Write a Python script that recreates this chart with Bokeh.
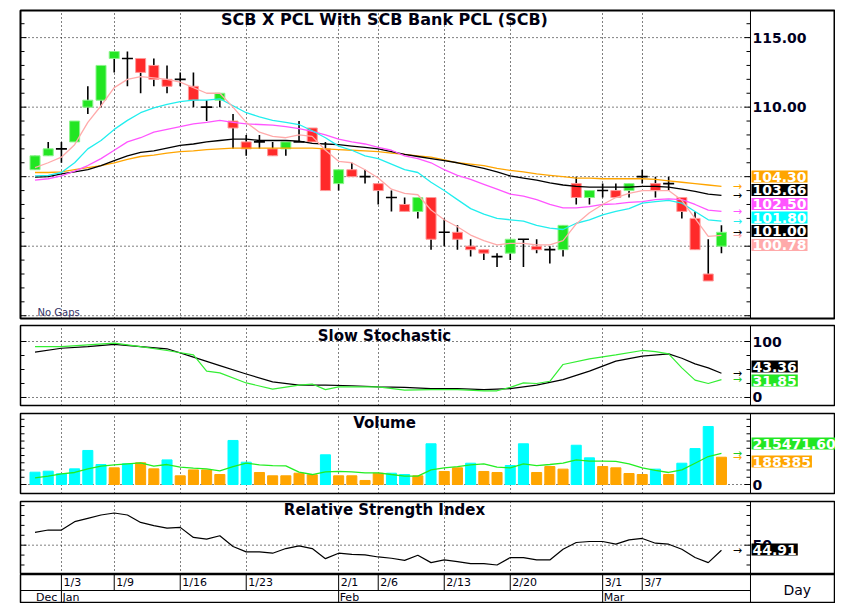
from math import pi
from bokeh.plotting import figure
from bokeh.layouts import column
from bokeh.models import Range1d, FixedTicker, Label, Grid, Span, ColumnDataSource
from bokeh.embed import file_html
from bokeh.resources import INLINE
from bokeh.core.properties import value

# ---------------- data ----------------
opens = [105.5, 106.5, 107.0, 107.5, 110.0, 110.5, 113.5, 113.5, 113.5, 113.0,
         112.0, 112.0, 111.5, 110.0, 110.5, 109.0, 107.5, 107.5, 107.0, 107.0,
         107.5, 108.5, 107.0, 104.5, 105.5, 105.0, 104.5, 103.5, 103.0, 102.5,
         103.5, 101.0, 101.0, 100.0, 99.75, 99.25, 99.5, 100.5, 100.0, 99.75,
         99.75, 104.5, 103.5, 104.0, 104.0, 104.0, 105.0, 104.5, 104.5, 103.5,
         102.0, 98.0, 100.0]
highs = [106.5, 107.5, 107.5, 109.0, 111.5, 113.0, 114.0, 114.0, 113.5, 113.5,
         113.0, 112.5, 112.5, 110.5, 111.0, 109.5, 108.0, 108.0, 107.5, 107.5,
         109.0, 108.5, 107.5, 105.5, 106.0, 105.5, 104.5, 104.0, 103.5, 103.5,
         103.5, 102.0, 101.5, 100.5, 99.75, 99.5, 100.5, 100.5, 100.5, 100.0,
         101.5, 105.0, 104.0, 104.5, 104.5, 104.5, 105.5, 105.0, 105.0, 103.5,
         102.5, 100.5, 101.5]
lows = [105.5, 106.5, 106.0, 107.5, 109.5, 110.0, 112.5, 111.5, 111.0, 111.5,
        111.0, 111.5, 110.0, 109.0, 110.0, 107.0, 106.5, 107.0, 106.5, 106.5,
        107.5, 107.5, 104.0, 104.0, 105.0, 104.5, 103.0, 102.5, 102.5, 102.0,
        99.75, 100.0, 99.75, 99.25, 99.0, 98.5, 99.0, 98.5, 99.5, 98.75,
        99.25, 103.0, 103.0, 103.5, 103.5, 103.5, 104.5, 103.5, 104.0, 102.0,
        99.75, 97.5, 99.5]
closes = [106.5, 107.0, 107.0, 109.0, 110.5, 113.0, 114.0, 113.5, 112.5, 112.0,
          111.5, 112.0, 110.5, 110.0, 111.0, 108.5, 107.0, 107.5, 106.5, 107.5,
          107.5, 107.5, 104.0, 105.5, 105.0, 105.0, 104.0, 103.5, 102.5, 103.5,
          100.5, 101.0, 100.5, 99.75, 99.5, 99.25, 100.5, 100.5, 99.75, 99.75,
          101.5, 103.5, 104.0, 104.0, 103.5, 104.5, 105.0, 104.0, 104.5, 102.5,
          99.75, 97.5, 101.0]

ma_pink = [105.65, 106.0, 106.4, 107.3, 108.9, 110.1, 111.4, 112.0, 112.2, 112.1,
           112.0, 111.8, 111.4, 111.0, 111.0, 110.0, 108.9, 108.2, 107.9, 107.8,
           108.0, 107.9, 106.9, 106.1, 106.0, 105.5, 104.9, 104.1, 103.8, 103.7,
           102.6, 101.9, 101.4, 100.8, 100.4, 100.1, 100.2, 100.2, 100.1, 100.1,
           100.4, 101.6, 102.4, 103.0, 103.5, 103.8, 104.0, 104.0, 104.0, 103.3,
           102.0, 100.7, 100.78]
ma_cyan = [105.05, 105.1, 105.3, 106.0, 107.0, 107.6, 108.4, 109.05, 109.6, 109.95,
           110.2, 110.4, 110.5, 110.5, 110.6, 110.1, 109.6, 109.3, 109.05, 108.9,
           108.75, 108.3, 107.8, 107.2, 106.9, 106.5, 106.3, 105.9, 105.5, 105.3,
           104.6, 104.0, 103.35, 102.7, 102.3, 102.0, 101.9, 101.8, 101.5, 101.3,
           101.2, 101.65, 101.9, 102.25, 102.5, 102.7, 103.1, 103.2, 103.3, 103.1,
           102.5, 101.9, 101.8]
ma_magenta = [104.75, 104.85, 105.05, 105.4, 105.8, 106.3, 106.9, 107.5, 107.8, 108.2,
              108.4, 108.6, 108.8, 108.9, 109.05, 108.9, 108.8, 108.75, 108.7, 108.6,
              108.45, 108.25, 108.0, 107.7, 107.5, 107.35, 107.1, 106.9, 106.5, 106.3,
              106.0, 105.5, 105.1, 104.8, 104.45, 104.1, 103.75, 103.6, 103.35, 103.0,
              102.75, 102.75, 102.85, 103.0, 103.05, 103.15, 103.2, 103.35, 103.4, 103.35,
              103.0, 102.6, 102.5]
ma_black = [104.97, 105.0, 105.2, 105.35, 105.5, 105.8, 106.15, 106.5, 106.75, 106.85,
            107.05, 107.25, 107.35, 107.5, 107.6, 107.7, 107.7, 107.6, 107.6, 107.6,
            107.55, 107.4, 107.35, 107.3, 107.2, 107.1, 107.0, 106.8, 106.6, 106.45,
            106.3, 106.15, 106.0, 105.8, 105.6, 105.35, 105.05, 104.9, 104.75, 104.55,
            104.4, 104.3, 104.25, 104.25, 104.25, 104.25, 104.3, 104.3, 104.25, 104.1,
            103.95, 103.75, 103.66]
ma_orange = [105.3, 105.3, 105.35, 105.5, 105.65, 105.8, 106.0, 106.25, 106.45, 106.55,
             106.7, 106.8, 106.85, 106.95, 107.0, 107.05, 107.05, 107.05, 107.05, 107.05,
             107.05, 107.05, 107.0, 106.95, 106.9, 106.85, 106.8, 106.7, 106.6, 106.5,
             106.4, 106.2, 106.0, 105.9, 105.8, 105.6, 105.45, 105.35, 105.2, 105.1,
             105.0, 104.9, 104.9, 104.85, 104.85, 104.85, 104.85, 104.8, 104.7, 104.6,
             104.5, 104.4, 104.3]

volume = [85000, 92000, 74000, 108000, 235000, 138000, 115000, 143000, 150000, 108000,
          170000, 60000, 101000, 101000, 69000, 304000, 154000, 83000, 60000, 60000,
          78000, 67000, 205000, 60000, 60000, 28000, 78000, 78000, 69000, 60000,
          281000, 90000, 115000, 147000, 90000, 83000, 131000, 281000, 83000, 124000,
          106000, 271000, 184000, 124000, 115000, 76000, 69000, 106000, 69000, 147000,
          248000, 400000, 188385]
volume_dir = ["up", "up", "up", "up", "up", "up", "down", "up", "down", "down",
              "up", "down", "down", "down", "down", "up", "up", "down", "down", "down",
              "down", "down", "up", "down", "down", "down", "down", "up", "up", "down",
              "up", "down", "down", "up", "down", "down", "up", "up", "down", "down",
              "down", "up", "up", "down", "down", "down", "down", "up", "down", "up",
              "up", "up", "down"]
volume_ma = [46000, 58000, 74000, 83000, 108000, 127000, 136000, 143000, 150000, 127000,
             138000, 120000, 113000, 108000, 94000, 124000, 147000, 136000, 131000, 129000,
             85000, 69000, 87000, 90000, 87000, 81000, 81000, 69000, 58000, 58000,
             101000, 115000, 124000, 136000, 143000, 120000, 115000, 143000, 131000, 138000,
             147000, 170000, 161000, 161000, 159000, 143000, 115000, 97000, 83000, 101000,
             147000, 193000, 215471.60]

stoch_d_idx = [0, 2, 4, 6, 8, 10, 12, 14, 16, 18, 20, 22, 24, 26, 28, 30, 32, 34, 36,
               38, 40, 42, 44, 46, 48, 49, 50, 51, 52]
stoch_d = [81, 88, 91, 95, 91, 87, 72, 57, 42, 28, 22, 22, 21, 19, 18, 16, 16, 14, 16,
           22, 32, 47, 65, 74, 78, 70, 60, 53, 43.36]
stoch_k_idx = [0, 2, 4, 6, 8, 10, 12, 13, 14, 16, 18, 20, 21, 22, 23, 24, 26, 28, 30,
               32, 34, 35, 36, 37, 38, 39, 40, 42, 44, 46, 47, 48, 49, 50, 51, 52]
stoch_k = [91, 91, 94, 97, 91, 84, 76, 47, 44, 26, 15, 22, 24, 14, 19, 19, 19, 13, 14,
           14, 12, 12, 18, 26, 25, 29, 59, 69, 76, 84, 82, 78, 53, 31, 25, 31.85]

rsi = [62.9, 65.3, 65.3, 73.7, 77.1, 80.5, 82.5, 80.5, 73.0, 69.7,
       67.3, 68.0, 57.8, 56.1, 59.5, 48.6, 43.2, 43.2, 41.9, 46.6,
       49.3, 46.6, 36.4, 41.9, 40.8, 40.2, 38.1, 36.8, 34.7, 39.8,
       32.4, 35.1, 33.4, 31.4, 31.4, 30.0, 37.5, 37.5, 35.1, 35.1,
       45.9, 52.7, 53.7, 53.7, 51.0, 55.4, 56.8, 52.0, 51.0, 45.9,
       37.5, 32.4, 44.91]

tick_idx = [2, 6, 11, 16, 23, 26, 31, 36, 43, 46]
tick_labels = ["1/3", "1/9", "1/16", "1/23", "2/1", "2/6", "2/13", "2/20", "3/1", "3/7"]
month_idx = [0, 2, 23, 43]
month_labels = ["Dec", "Jan", "Feb", "Mar"]

price_ticks = [95, 100, 105, 110, 115]
price_labelled = [100, 105, 110, 115]

# ---------------- styling ----------------
FONT = "DejaVu Sans"
GREEN = "#22e622"
RED = "#ff2a2a"
C_PINK = "#ffaaaa"
C_CYAN = "#22eeee"
C_MAG = "#ff55ff"
C_ORANGE = "#ffa500"
VOL_UP = "#00ffff"
VOL_DN = "#ffa500"
W = 835
LB = 20
X0, X1 = -1.1, 60.64      # visible index range of every panel (frame 20..835 px)
AX = 54.2                 # index position of the value-axis line (750 px)
idx = list(range(len(closes)))
XR = Range1d(X0, X1)


def make_fig(h, yr, top, bottom, ow=1.5):
    p = figure(width=W, height=h, x_range=XR, y_range=Range1d(*yr),
               x_axis_location=None, y_axis_location=None,
               toolbar_location=None, output_backend="svg",
               min_border_left=LB, min_border_right=0,
               min_border_top=top, min_border_bottom=bottom,
               background_fill_color="white", border_fill_color="white")
    p.grid.visible = False
    p.outline_line_color = "black"
    p.outline_line_width = ow
    return p


def value_axis(p, ticks, minor, labelled, fmt):
    p.add_layout(Span(location=AX, dimension="height", line_color="black", line_width=1))
    # dotted horizontal grid lines, only over the chart area
    p.segment(x0=[X0] * len(ticks), y0=ticks, x1=[AX] * len(ticks), y1=ticks,
              line_color="black", line_dash="1 3", line_width=1)
    for xpos, ang in ((AX, pi), (X0, 0)):
        p.ray(x=[xpos] * len(ticks), y=ticks, length=6, angle=ang,
              length_units="screen", line_color="black", line_width=1)
        p.ray(x=[xpos] * len(minor), y=minor, length=4, angle=ang,
              length_units="screen", line_color="black", line_width=1)
    p.text(x=[AX] * len(labelled), y=labelled, text=[fmt(t) for t in labelled],
           x_offset=2, text_align="left", text_baseline="middle",
           text_font=value(FONT), text_font_style="bold", text_font_size="14px",
           text_color="#000022")


def vgrid(p):
    p.add_layout(Grid(dimension=0, ticker=FixedTicker(ticks=tick_idx),
                      grid_line_color="black", grid_line_dash="1 3", grid_line_width=1))


def title(p, text, y, size="15px"):
    p.add_layout(Label(x=364, y=y, x_units="screen", y_units="screen", text=text,
                       text_align="center", text_baseline="middle", text_font=FONT,
                       text_font_style="bold", text_font_size=size, text_color="#000011"))


def tag(p, text, bg, y, fg="white"):
    p.add_layout(Label(x=AX, y=y, x_units="data", y_units="screen", x_offset=1,
                       text=text, text_align="left", text_baseline="middle",
                       text_font=FONT, text_font_style="bold", text_font_size="14px",
                       text_color=fg, background_fill_color=bg, padding=1))


def arrows(p, ys, colors):
    p.text(x=[53.2] * len(ys), y=ys, text=["\u2192"] * len(ys), text_color=colors,
           text_align="center", text_baseline="middle", text_font=value(FONT),
           text_font_size="11px")


# ---------------- main price panel ----------------
p = make_fig(321, (94.8, 116.95), 10, 3, ow=2)
vgrid(p)
value_axis(p, price_ticks, [v for v in range(95, 117) if v % 5], price_labelled,
           lambda t: f"{t:.2f}")

p.segment(x0=idx, y0=lows, x1=idx, y1=highs, line_color="black", line_width=1.6)
up = [i for i in idx if closes[i] > opens[i]]
dn = [i for i in idx if closes[i] < opens[i]]
dj = [i for i in idx if closes[i] == opens[i]]
p.vbar(x=up, top=[closes[i] for i in up], bottom=[opens[i] for i in up], width=0.76,
       fill_color=GREEN, line_color="#8cf58c", line_width=1)
p.vbar(x=dn, top=[opens[i] for i in dn], bottom=[closes[i] for i in dn], width=0.76,
       fill_color=RED, line_color="#ff9a9a", line_width=1)
p.scatter(x=dj, y=[closes[i] for i in dj], marker="dash", size=11,
          line_color="black", line_width=1.6)

for ma, col in ((ma_orange, C_ORANGE), (ma_black, "black"), (ma_magenta, C_MAG),
                (ma_cyan, C_CYAN), (ma_pink, C_PINK)):
    p.line(idx, ma, line_color=col, line_width=1.3)

arrows(p, [ma_orange[-1], ma_black[-1], ma_magenta[-1], ma_cyan[-1], closes[-1], ma_pink[-1]],
       [C_ORANGE, "black", C_MAG, C_CYAN, "black", C_PINK])

title(p, "SCB X PCL With SCB Bank PCL (SCB)", 299, "16px")
p.add_layout(Label(x=17, y=6, x_units="screen", y_units="screen", text="No Gaps",
                   text_baseline="middle", text_font=FONT, text_font_size="10px",
                   text_color="#333366"))
tag(p, f"{ma_orange[-1]:.2f}", C_ORANGE, 142)
tag(p, f"{ma_black[-1]:.2f}", "black", 128.5)
tag(p, f"{ma_magenta[-1]:.2f}", C_MAG, 114.5)
tag(p, f"{ma_cyan[-1]:.2f}", "#00ffff", 101)
tag(p, f"{closes[-1]:.2f}", "black", 87.5)
tag(p, f"{ma_pink[-1]:.2f}", C_PINK, 73.5)

# ---------------- slow stochastic ----------------
ps = make_fig(88, (-14.3, 128.6), 4, 4)
vgrid(ps)
value_axis(ps, [0, 100], [25, 50, 75], [0, 100], lambda t: f"{t}")
ps.line(stoch_d_idx, stoch_d, line_color="black", line_width=1.2)
ps.line(stoch_k_idx, stoch_k, line_color="#33ee33", line_width=1.2)
arrows(ps, [stoch_d[-1], stoch_k[-1]], ["black", "#22cc22"])
title(ps, "Slow Stochastic", 70)
tag(ps, f"{stoch_d[-1]:.2f}", "black", 39)
tag(ps, f"{stoch_k[-1]:.2f}", GREEN, 25)

# ---------------- volume ----------------
pv = make_fig(88, (-62000, 490000), 4, 4)
vgrid(pv)
value_axis(pv, [0], [50000 * k for k in range(1, 10)], [0], lambda t: f"{t}")
vsrc = ColumnDataSource(dict(x=idx, v=volume,
                             c=[VOL_UP if d == "up" else VOL_DN for d in volume_dir]))
pv.vbar(x="x", top="v", bottom=0, width=0.76, fill_color="c", line_color="c", source=vsrc)
pv.line(idx, volume_ma, line_color="#22ee22", line_width=1.3)
arrows(pv, [volume_ma[-1], volume[-1]], ["#22cc22", C_ORANGE])
title(pv, "Volume", 71)
tag(pv, f"{volume_ma[-1]:.2f}", GREEN, 50)
tag(pv, f"{volume[-1]:.0f}", C_ORANGE, 32)

# ---------------- RSI ----------------
pr = make_fig(77, (20.4, 94.1), 4, 0)
vgrid(pr)
value_axis(pr, [50], [20, 30, 40, 60, 70, 80, 90], [50], lambda t: f"{t}")
pr.line(idx, rsi, line_color="black", line_width=1.2)
arrows(pr, [rsi[-1]], ["black"])
title(pr, "Relative Strength Index", 65)
tag(pr, f"{rsi[-1]:.2f}", "black", 25)

# ---------------- date axis ----------------
pa = figure(width=W, height=29, x_range=XR, y_range=Range1d(0, 29),
            x_axis_location=None, y_axis_location=None, toolbar_location=None,
            output_backend="svg", min_border_left=LB, min_border_right=0,
            min_border_top=0, min_border_bottom=0,
            background_fill_color="white", border_fill_color="white")
pa.grid.visible = False
pa.outline_line_color = "black"
pa.outline_line_width = 1.5
pa.add_layout(Span(location=AX, dimension="height", line_color="black", line_width=1))
pa.segment(x0=[X0], y0=[13], x1=[AX], y1=[13], line_color="black", line_width=1)
pa.segment(x0=tick_idx, y0=[13] * len(tick_idx), x1=tick_idx, y1=[29] * len(tick_idx),
           line_color="black", line_width=1)
pa.segment(x0=month_idx[1:], y0=[0] * 3, x1=month_idx[1:], y1=[13] * 3,
           line_color="black", line_width=1)
pa.text(x=tick_idx, y=[21] * len(tick_idx), text=tick_labels, text_align="left",
        text_baseline="middle", x_offset=2, text_font=value(FONT), text_font_size="11px",
        text_color="#000011")
pa.text(x=month_idx, y=[6] * len(month_idx), text=month_labels, text_align="left",
        text_baseline="middle", x_offset=1, text_font=value(FONT), text_font_size="11px",
        text_color="#000011")
pa.add_layout(Label(x=763, y=14, x_units="screen", y_units="screen", text="Day",
                    text_baseline="middle", text_font=FONT, text_font_size="14px",
                    text_color="#000011"))

layout = column(p, ps, pv, pr, pa)
open("out.html", "w").write(file_html(layout, INLINE))
